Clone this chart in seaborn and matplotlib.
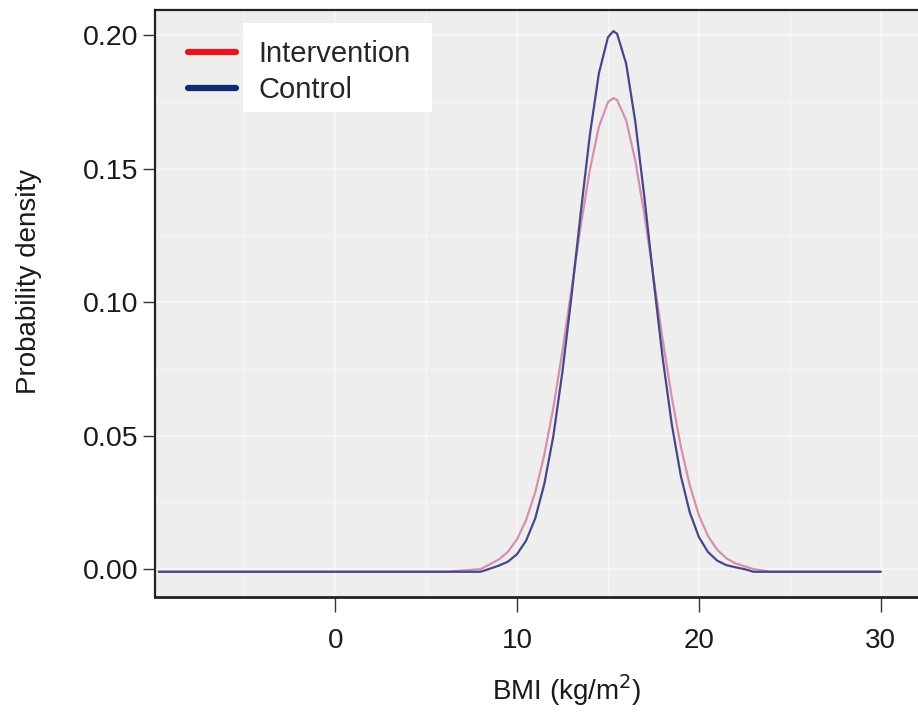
import numpy as np
import pandas as pd
import matplotlib
matplotlib.use("Agg")
import matplotlib.pyplot as plt
import seaborn as sns
from matplotlib.lines import Line2D
from matplotlib.patches import Rectangle
from matplotlib.ticker import MultipleLocator

# BMI grid (kg/m2) and densities
bmi = [-9.7, 6.0, 8.0, 9.0, 9.5, 10.0, 10.5, 11.0, 11.5, 12.0, 12.5, 13.0, 13.5,
       14.0, 14.5, 15.0, 15.3, 15.5, 16.0, 16.5, 17.0, 17.5, 18.0, 18.5, 19.0,
       19.5, 20.0, 20.5, 21.0, 21.5, 22.0, 22.5, 23.0, 24.0, 30.0]

intervention = [-0.001, -0.001, 0.0000, 0.0036, 0.0065, 0.0112, 0.0184, 0.0288,
                0.0428, 0.0606, 0.0818, 0.1050, 0.1284, 0.1494, 0.1657, 0.1749,
                0.1764, 0.1757, 0.1681, 0.1531, 0.1329, 0.1098, 0.0863, 0.0647,
                0.0461, 0.0313, 0.0202, 0.0124, 0.0073, 0.0041, 0.0022, 0.0011,
                0.0000, -0.001, -0.001]

control = [-0.001, -0.001, -0.001, 0.0013, 0.0028, 0.0056, 0.0107, 0.0190, 0.0319,
           0.0500, 0.0741, 0.1026, 0.1333, 0.1624, 0.1857, 0.1992, 0.2015, 0.2005,
           0.1893, 0.1677, 0.1394, 0.1087, 0.0795, 0.0546, 0.0351, 0.0212, 0.0120,
           0.0064, 0.0032, 0.0015, 0.0007, 0.0000, -0.001, -0.001, -0.001]

groups = ["Intervention", "Control"]
line_colors = {"Intervention": "#d590b0", "Control": "#45478a"}
legend_colors = {"Intervention": "#e8141c", "Control": "#0b2d72"}

df = pd.concat([
    pd.DataFrame({"BMI": bmi, "density": intervention, "group": "Intervention"}),
    pd.DataFrame({"BMI": bmi, "density": control, "group": "Control"}),
])

sns.set_theme(style="darkgrid")
plt.rcParams["font.family"] = ["Liberation Sans", "DejaVu Sans"]

fig = plt.figure(figsize=(9.18, 7.16), dpi=100)
ax = fig.add_axes([0.169, 0.166, 0.836, 0.820])
ax.set_facecolor("#eeeeee")

sns.lineplot(data=df, x="BMI", y="density", hue="group", hue_order=groups,
             palette=line_colors, linewidth=1.6, ax=ax, legend=False, sort=False)

ax.set_xlim(-9.9, 32.3)
ax.set_ylim(-0.0105, 0.2094)
ax.set_xticks([0, 10, 20, 30])
ax.set_yticks([0.0, 0.05, 0.10, 0.15, 0.20])
ax.set_yticklabels(["0.00", "0.05", "0.10", "0.15", "0.20"])
ax.xaxis.set_minor_locator(MultipleLocator(5))
ax.yaxis.set_minor_locator(MultipleLocator(0.025))
ax.grid(which="major", color="#f8f8f8", linewidth=1.2)
ax.grid(which="minor", color="#f6f6f6", linewidth=0.9)

ax.tick_params(axis="y", which="major", length=9, width=1, color="#333333",
               labelsize=20.5, pad=3, left=True, labelcolor="#1a1a1a")
ax.tick_params(axis="x", which="major", length=11, width=1, color="#333333",
               labelsize=20, pad=11, bottom=True, labelcolor="#1a1a1a")
ax.tick_params(which="minor", length=0)

for side in ["left", "bottom", "top"]:
    ax.spines[side].set_visible(True)
    ax.spines[side].set_color("#222222")
ax.spines["left"].set_linewidth(1.6)
ax.spines["bottom"].set_linewidth(2.0)
ax.spines["top"].set_linewidth(1.6)
ax.spines["right"].set_visible(False)

ax.set_xlabel("BMI (kg/m$^2$)", fontsize=20, color="#1a1a1a")
ax.set_ylabel("Probability density", fontsize=20, color="#1a1a1a")
ax.xaxis.set_label_coords(0.536, -0.128)
ax.yaxis.set_label_coords(-0.147, 0.538)

# white box behind legend labels
ax.add_patch(Rectangle((0.115, 0.826), 0.246, 0.152, transform=ax.transAxes,
                       facecolor="white", edgecolor="none", zorder=3))
handles = [Line2D([0], [0], color=legend_colors[g], lw=4.5) for g in groups]
leg = ax.legend(handles, groups, loc="upper left", bbox_to_anchor=(0.009, 0.994),
                frameon=False, fontsize=21, handlelength=1.65, handletextpad=0.75,
                labelspacing=0.28)
leg.set_zorder(4)

fig.savefig("out.png", dpi=100)
